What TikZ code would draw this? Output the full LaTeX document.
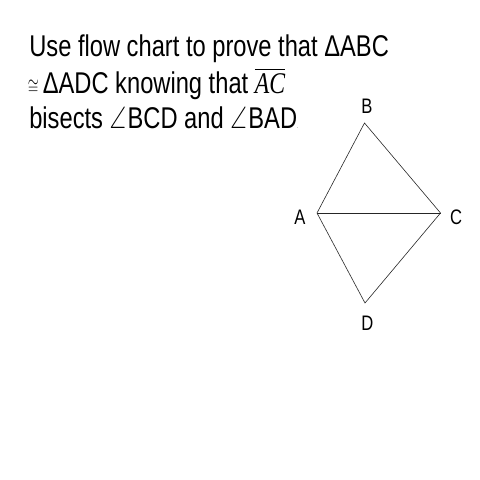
\documentclass[tikz,border=0pt]{standalone}
\usepackage{fontspec}
\usepackage{amsmath}
\usepackage{amssymb}
\setmainfont[FakeStretch=0.79]{Liberation Sans}
\newfontfamily\segfont[FakeStretch=0.79]{Liberation Serif}
\usetikzlibrary{positioning}
\newcommand{\tang}{\resizebox{16.5pt}{21.5pt}{$\angle$}\hspace{1.5pt}}
\newcommand{\tcong}{\resizebox{11pt}{14pt}{$\cong$}}
\newcommand{\tseg}[1]{$\overline{\text{\segfont\itshape #1}}$}

\begin{document}
\begin{tikzpicture}[x=1pt, y=-1pt, line width=0.6pt]
	\useasboundingbox (0, 0) rectangle (480, 480);
	\tikzset{prompt/.style={anchor=base west, inner sep=0, font=\fontsize{30}{36}\selectfont}}
	\tikzset{vertex/.style={inner sep=0, font=\fontsize{21}{24}\selectfont}}

	\node[prompt] (line1) at (29, 56.7) {Use flow chart to prove that ΔABC};
	\node[prompt] (line2) at (27.5, 93.3) {\raisebox{-1pt}{\tcong}\hspace{4pt}ΔADC knowing that \tseg{AC}};
	\node[prompt] (line3) at (29, 128.3) {bisects \tang BCD and \tang BAD{\tiny.}};

	\coordinate (A) at (317, 213);
	\coordinate (B) at (364.5, 123);
	\coordinate (C) at (440.5, 213);
	\coordinate (D) at (365, 303);

	\draw[black!85] (A) -- (B) -- (C) -- (D) -- cycle;
	\draw[black!85] (A) -- (C);

	\node[vertex] (labA) at (300, 217.7) {A};
	\node[vertex] (labB) at (367, 106) {B};
	\node[vertex] (labC) at (456, 217.7) {C};
	\node[vertex] (labD) at (367.3, 323.3) {D};
\end{tikzpicture}
\end{document}
